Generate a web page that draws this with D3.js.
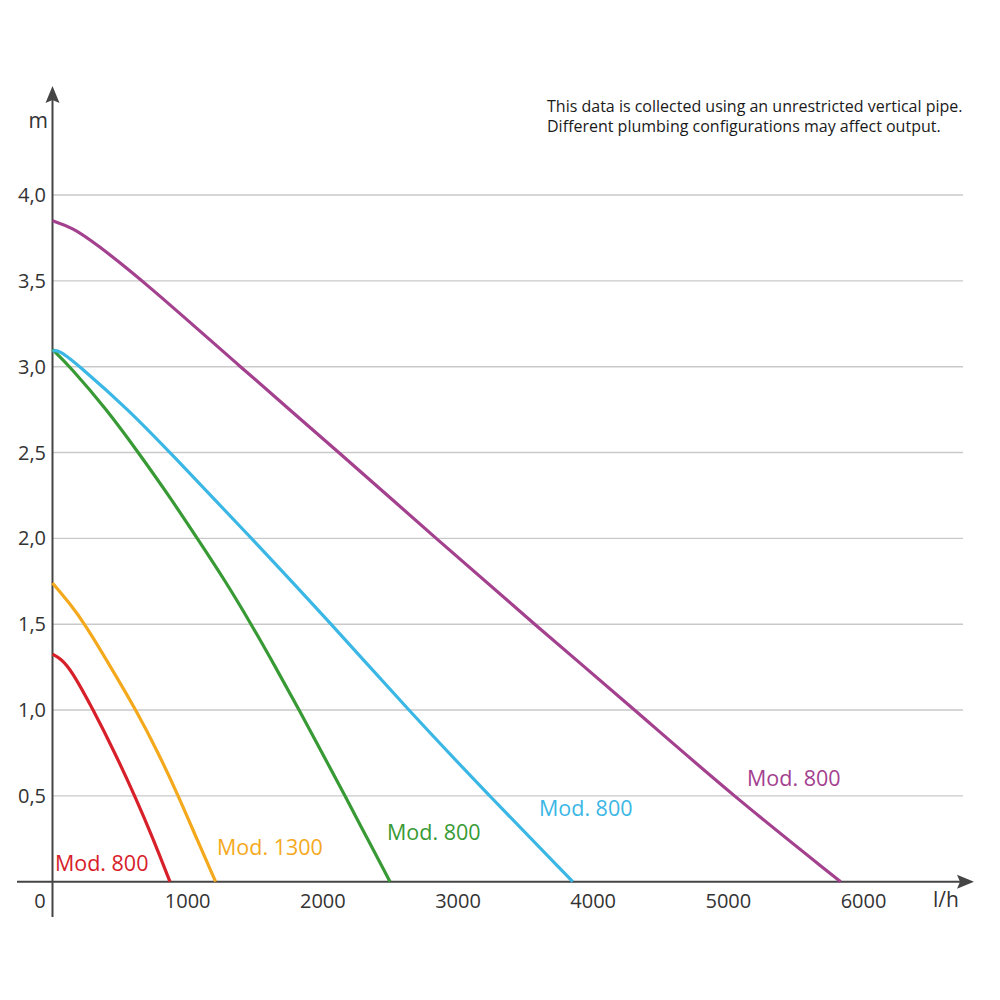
<!DOCTYPE html>
<html>
<head>
<meta charset="utf-8">
<script src="https://cdn.jsdelivr.net/npm/d3@7"></script>
<style>
  body { margin: 0; background: #fff; }
  text { font-family: "Open Sans", sans-serif; }
</style>
</head>
<body>
<div id="chart"></div>
<script>
// pump curves: flow (l/h) vs head (m)
var red     = [[0,1.325],[60,1.3],[142,1.23],[302,1.0],[462,0.75],[609,0.5],[745,0.25],[869,0]];
var orange  = [[0,1.74],[129,1.62],[240,1.5],[431,1.25],[618,1.0],[783,0.75],[931,0.5],[1067,0.25],[1207,0]];
var green   = [[0,3.1],[130,3.0],[401,2.75],[635,2.5],[860,2.25],[1071,2.0],[1280,1.75],[1470,1.5],[1650,1.25],[1825,1.0],[1995,0.75],[2164,0.5],[2330,0.25],[2497,0]];
var cyan    = [[0,3.09],[45,3.1],[204,3.0],[561,2.75],[870,2.5],[1474,2.0],[2064,1.5],[2632,1.0],[3232,0.5],[3849,0]];
var magenta = [[0,3.85],[150,3.81],[315,3.72],[672,3.5],[1388,3.0],[2120,2.5],[2837,2.0],[3565,1.5],[4309,1.0],[5034,0.5],[5831,0]];

var series = [
    { name: "Mod. 800",  color: "#d7202a", values: red,     label: [18, 0.064] },
    { name: "Mod. 1300", color: "#f4a91c", values: orange,  label: [1217, 0.156] },
    { name: "Mod. 800",  color: "#389a34", values: green,   label: [2475, 0.243] },
    { name: "Mod. 800",  color: "#3bb7e5", values: cyan,    label: [3599, 0.383] },
    { name: "Mod. 800",  color: "#a3418f", values: magenta, label: [5138, 0.558] }
];

var xTicks = [0, 1000, 2000, 3000, 4000, 5000, 6000];
var yTicks = [0.5, 1.0, 1.5, 2.0, 2.5, 3.0, 3.5, 4.0];
var note = ["This data is collected using an unrestricted vertical pipe.",
            "Different plumbing configurations may affect output."];

var width = 1000, height = 1000;
var svg = d3.select("#chart").append("svg")
    .attr("width", width).attr("height", height);

var x = d3.scaleLinear().domain([0, 6000]).range([52.5, 863.5]);
var y = d3.scaleLinear().domain([0, 4]).range([881.7, 195]);
var axisColor = "#454545";

// horizontal grid
svg.append("g").selectAll("line")
    .data(yTicks)
    .enter().append("line")
    .attr("x1", x(0)).attr("x2", 963)
    .attr("y1", function(d) { return y(d); })
    .attr("y2", function(d) { return y(d); })
    .attr("stroke", "#c9c9c9").attr("stroke-width", 1.4);

// y tick labels, comma decimals
svg.append("g").selectAll("text")
    .data(yTicks)
    .enter().append("text")
    .attr("x", 46).attr("y", function(d) { return y(d) + 7; })
    .attr("text-anchor", "end")
    .attr("font-size", 20).attr("fill", "#333")
    .text(function(d) { return d.toFixed(1).replace(".", ","); });

// x tick labels
svg.append("g").selectAll("text")
    .data(xTicks)
    .enter().append("text")
    .attr("x", function(d) { return d === 0 ? 40 : x(d); })
    .attr("y", 908)
    .attr("text-anchor", "middle")
    .attr("font-size", 20).attr("fill", "#333")
    .text(function(d) { return d; });

// axes with arrows
svg.append("line")
    .attr("x1", 17).attr("x2", 960)
    .attr("y1", y(0)).attr("y2", y(0))
    .attr("stroke", axisColor).attr("stroke-width", 2);
svg.append("path")
    .attr("d", "M974," + y(0) + "L957," + (y(0) - 7) + "L960," + y(0) + "L957," + (y(0) + 7) + "Z")
    .attr("fill", axisColor);
svg.append("line")
    .attr("x1", x(0)).attr("x2", x(0))
    .attr("y1", 917).attr("y2", 99)
    .attr("stroke", axisColor).attr("stroke-width", 2);
svg.append("path")
    .attr("d", "M" + x(0) + ",86L" + (x(0) - 7) + ",103L" + x(0) + ",100L" + (x(0) + 7) + ",103Z")
    .attr("fill", axisColor);

svg.append("text").attr("x", 48).attr("y", 128)
    .attr("text-anchor", "end").attr("font-size", 21).attr("fill", "#333").text("m");
svg.append("text").attr("x", 946).attr("y", 907)
    .attr("text-anchor", "middle").attr("font-size", 21).attr("fill", "#333").text("l/h");

// curves (b-spline smooths out reading noise)
var line = d3.line()
    .x(function(d) { return x(d[0]); })
    .y(function(d) { return y(d[1]); })
    .curve(d3.curveBasis);

svg.append("g").selectAll("path")
    .data(series)
    .enter().append("path")
    .attr("d", function(s) { return line(s.values); })
    .attr("fill", "none")
    .attr("stroke", function(s) { return s.color; })
    .attr("stroke-width", 3.2);

svg.append("g").selectAll("text")
    .data(series)
    .enter().append("text")
    .attr("x", function(s) { return x(s.label[0]); })
    .attr("y", function(s) { return y(s.label[1]); })
    .attr("font-size", 21.5)
    .attr("fill", function(s) { return s.color; })
    .text(function(s) { return s.name; });

// note in the top right
svg.append("g").selectAll("text")
    .data(note)
    .enter().append("text")
    .attr("x", 547).attr("y", function(d, i) { return 111.5 + i * 20; })
    .attr("font-size", 16).attr("fill", "#1a1a1a")
    .text(function(d) { return d; });
</script>
</body>
</html>
